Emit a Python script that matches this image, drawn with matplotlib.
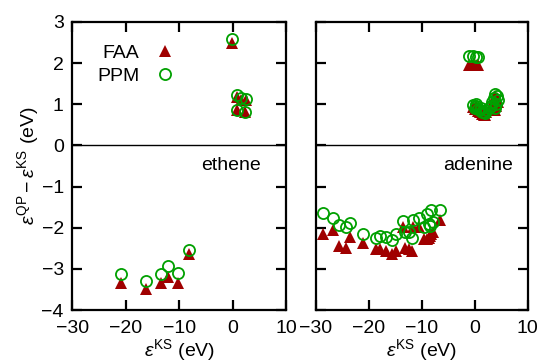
import matplotlib
matplotlib.use("Agg")
import matplotlib.pyplot as plt

plt.rcParams['font.family'] = ['Liberation Sans', 'DejaVu Sans']
plt.rcParams['mathtext.fontset'] = 'custom'
plt.rcParams['mathtext.rm'] = 'Liberation Sans'
plt.rcParams['mathtext.it'] = 'Liberation Sans:italic'

# ethene
eth_x = [-20.8, -16.2, -13.4, -12.0, -10.2, -8.1, -0.2, 0.8, 1.5, 2.5, 0.8, 2.3]
eth_faa = [-3.34, -3.49, -3.34, -3.20, -3.34, -2.64, 2.49, 1.18, 1.10, 1.10, 0.85, 0.80]
eth_ppm = [-3.12, -3.29, -3.12, -2.93, -3.10, -2.53, 2.58, 1.22, 1.15, 1.12, 0.85, 0.80]

# adenine
ade_x = [-28.6, -26.8, -25.7, -24.3, -23.5, -21.1, -18.7, -17.9, -16.7, -15.7, -14.8,
         -13.5, -13.2, -12.4, -11.9, -11.6, -10.5, -9.5, -9.0, -8.7, -8.5, -8.2, -7.8, -6.6,
         -1.1, -0.4, 0.2, 0.7,
         -0.3, 0.0, 0.3, 0.6, 1.0, 1.4, 1.8, 2.2, 2.6, 3.0, 3.3, 3.6, 3.9, 4.1, 4.3,
         0.2, 1.2, 2.0, 3.8, 4.0]
ade_faa = [-2.15, -2.06, -2.44, -2.48, -2.22, -2.38, -2.52, -2.52, -2.56, -2.64, -2.56,
           -1.99, -2.48, -2.52, -2.56, -1.99, -1.98, -2.28, -2.28, -2.24, -2.20, -2.15, -2.10, -1.81,
           1.95, 1.95, 1.95, 1.95,
           0.94, 0.88, 0.96, 0.84, 0.80, 0.77, 0.75, 0.80, 0.86, 0.90, 1.00, 1.10, 1.20, 1.15, 1.05,
           0.90, 0.85, 0.73, 0.85, 0.95]
ade_ppm = [-1.64, -1.77, -1.93, -1.97, -1.88, -2.14, -2.24, -2.20, -2.22, -2.30, -2.15,
           -1.83, -2.11, -2.11, -2.25, -1.81, -1.77, -1.98, -1.67, -1.90, -1.95, -1.57, -1.87, -1.57,
           2.17, 2.17, 2.15, 2.14,
           0.98, 0.92, 1.00, 0.88, 0.85, 0.82, 0.80, 0.85, 0.90, 0.95, 1.05, 1.15, 1.25, 1.20, 1.10,
           0.95, 0.90, 0.78, 0.90, 1.00]

red = "#a00000"
green = "#00a000"
fs = 14

fig = plt.figure(figsize=(5.38, 3.64), dpi=100)
ax1 = fig.add_axes([0.134, 0.148, 0.398, 0.792])
ax2 = fig.add_axes([0.587, 0.148, 0.394, 0.792])

for ax, x, faa, ppm, name, tx in [(ax1, eth_x, eth_faa, eth_ppm, "ethene", 0.88),
                                  (ax2, ade_x, ade_faa, ade_ppm, "adenine", 0.93)]:
    ax.axhline(0, color="black", lw=1)
    ax.plot(x, faa, "^", color=red, ms=9, mew=0, label="FAA")
    ax.plot(x, ppm, "o", mfc="none", mec=green, ms=8, mew=1.3, label="PPM")
    ax.set_xlim(-30, 10)
    ax.set_ylim(-4, 3)
    ax.set_xticks([-30, -20, -10, 0, 10])
    ax.set_xticklabels(["\u221230", "\u221220", "\u221210", "0", "10"])
    ax.set_yticks(range(-4, 4))
    ax.tick_params(direction="in", length=7, width=1.6, top=True, right=True,
                   labelsize=fs)
    ax.tick_params(axis="x", pad=7)
    ax.tick_params(axis="y", pad=6)
    for s in ax.spines.values():
        s.set_linewidth(1.6)
    ax.set_xlabel(r"$\varepsilon^{\mathrm{KS}}$ (eV)", fontsize=fs, labelpad=0)
    ax.text(tx, 0.5, name, transform=ax.transAxes, ha="right", va="center",
            fontsize=fs)

ax1.set_yticklabels(["\u22124", "\u22123", "\u22122", "\u22121", "0", "1", "2", "3"])
ax2.set_yticklabels([])
ax1.set_ylabel(r"$\varepsilon^{\mathrm{QP}} - \varepsilon^{\mathrm{KS}}$ (eV)",
               fontsize=fs, labelpad=0)

ax1.legend(loc="upper left", bbox_to_anchor=(0.08, 0.95), markerfirst=False,
           frameon=False, fontsize=fs, handletextpad=0.7, borderaxespad=0,
           labelspacing=0.3, handlelength=1.2)

fig.savefig("out.png", dpi=100)
